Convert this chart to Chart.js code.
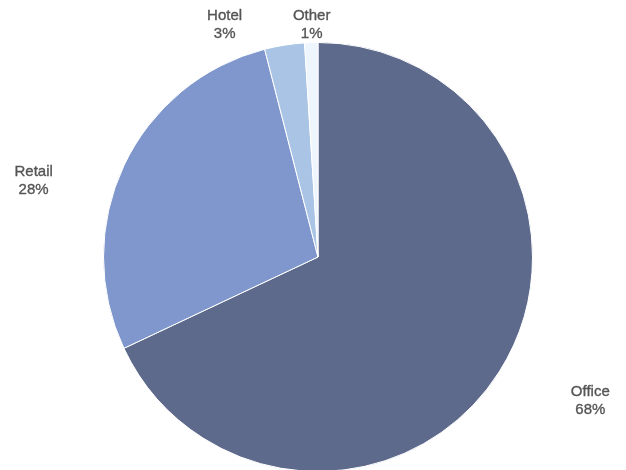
<!DOCTYPE html>
<html>
<head>
<meta charset="utf-8">
<script src="https://cdn.jsdelivr.net/npm/chart.js@4/dist/chart.umd.min.js"></script>
<style>
  html, body { margin: 0; padding: 0; background: #fff; overflow: hidden; }
  #wrap { width: 626px; height: 480px; }
</style>
</head>
<body>
<div id="wrap"><canvas id="pie" width="626" height="480"></canvas></div>
<script>
// Sector split (percent of total)
const sectors = ['Office', 'Retail', 'Hotel', 'Other'];
const shares = [68, 28, 3, 1];
const sliceColors = ['#5e6a8c', '#7f97cc', '#a9c4e5', '#eef5fd'];

// Label nudges from the default outside anchor, so the small slices don't collide
const labelNudge = {
    Office: [76, 19],
    Retail: [-74, 23],
    Hotel: [-57, -3],
    Other: [1, 0]
};

const outsideLabels = {
    id: 'outsideLabels',
    afterDatasetsDraw(chart) {
        const ctx = chart.ctx;
        const meta = chart.getDatasetMeta(0);
        ctx.save();
        ctx.font = '15px "Liberation Sans", Arial, sans-serif';
        ctx.fillStyle = '#555555';
        ctx.strokeStyle = '#555555';
        ctx.lineWidth = 0.35;
        ctx.textAlign = 'center';
        ctx.textBaseline = 'middle';
        meta.data.forEach((arc, i) => {
            const mid = (arc.startAngle + arc.endAngle) / 2;
            const r = arc.outerRadius + 18;
            const name = chart.data.labels[i];
            const nudge = labelNudge[name] || [0, 0];
            const x = arc.x + Math.cos(mid) * r + nudge[0];
            const y = arc.y + Math.sin(mid) * r + nudge[1];
            const pct = chart.data.datasets[0].data[i] + '%';
            ctx.fillText(name, x, y - 9);
            ctx.strokeText(name, x, y - 9);
            ctx.fillText(pct, x, y + 9);
            ctx.strokeText(pct, x, y + 9);
        });
        ctx.restore();
    }
};

new Chart(document.getElementById('pie'), {
    type: 'pie',
    data: {
        labels: sectors,
        datasets: [{
            data: shares,
            backgroundColor: sliceColors,
            borderColor: '#ffffff',
            borderWidth: 1
        }]
    },
    options: {
        responsive: false,
        animation: false,
        layout: { padding: { left: 103, right: 93, top: 42, bottom: 8 } },
        plugins: {
            legend: { display: false },
            tooltip: { enabled: false }
        }
    },
    plugins: [outsideLabels]
});
</script>
</body>
</html>
